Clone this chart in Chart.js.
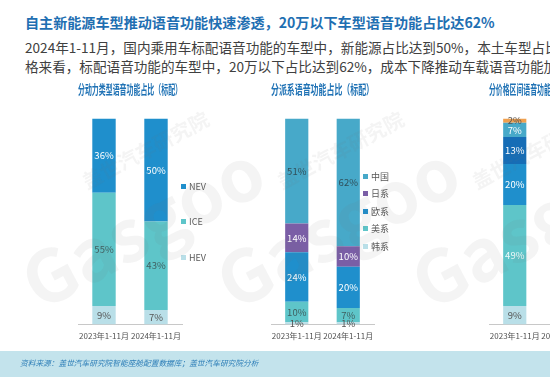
<!DOCTYPE html>
<html lang="zh">
<head>
<meta charset="UTF-8">
<title>语音功能占比</title>
<script src="https://cdn.jsdelivr.net/npm/chart.js"></script>
<style>
  html, body { margin: 0; padding: 0; }
  body { width: 550px; height: 378px; overflow: hidden; position: relative; background: #fff;
         font-family: "Noto Sans CJK SC", "Noto Sans", sans-serif; }
  .head { position: absolute; left: 25px; white-space: nowrap; }
  #title { top: 12px; font-size: 14.1px; font-weight: bold; color: #1f6fb2; }
  .sub { font-size: 13.6px; color: #404040; }
  #sub1 { top: 37px; }
  #sub2 { top: 56px; }
  .box { position: absolute; top: 78px; }
  .legend { position: absolute; font-size: 9px; color: #595959; }
  .legend div { display: flex; align-items: center; height: 12px; }
  .legend span.sw { width: 5px; height: 5px; margin-right: 3px; display: inline-block; }
  #footer { position: absolute; left: 0; top: 351px; width: 550px; height: 26px; background: #c3e3ec; }
  #footer span { position: absolute; left: 20px; top: 6px; font-size: 7.7px; font-style: italic; color: #2f7fb8; }
  .wm { position: absolute; color: rgba(120,120,120,0.08); transform: rotate(-28deg); white-space: nowrap;
        pointer-events: none; font-weight: bold; }
</style>
</head>
<body>

<div id="title" class="head">自主新能源车型推动语音功能快速渗透，20万以下车型语音功能占比达62%</div>
<div id="sub1" class="head sub">2024年1-11月，国内乘用车标配语音功能的车型中，新能源占比达到50%，本土车型占比达到62%；从价</div>
<div id="sub2" class="head sub">格来看，标配语音功能的车型中，20万以下占比达到62%，成本下降推动车载语音功能加速普及。</div>

<div class="box" style="left:50px"><canvas id="c1" width="200" height="270"></canvas></div>
<div class="box" style="left:235px"><canvas id="c2" width="200" height="270"></canvas></div>
<div class="box" style="left:458px"><canvas id="c3" width="200" height="270"></canvas></div>

<div id="lg1" class="legend" style="left:181px; top:180px"></div>
<div id="lg2" class="legend" style="left:363px; top:170px"></div>

<div class="wm" style="left:10px; top:170px; font-size:72px;">Gasgoo</div>
<div class="wm" style="left:75px; top:135px; font-size:20px;">盖世汽车研究院</div>
<div class="wm" style="left:205px; top:170px; font-size:72px;">Gasgoo</div>
<div class="wm" style="left:270px; top:135px; font-size:20px;">盖世汽车研究院</div>
<div class="wm" style="left:400px; top:170px; font-size:72px;">Gasgoo</div>
<div class="wm" style="left:465px; top:135px; font-size:20px;">盖世汽车研究院</div>

<div id="footer"><span>资料来源：盖世汽车研究院智能座舱配置数据库；盖世汽车研究院分析</span></div>

<script>
// 时间段
const periods = ['2023年1-11月', '2024年1-11月'];

// 分动力类型（%）
const hevShare = [9, 7];
const iceShare = [55, 43];
const nevShare = [36, 50];

// 分派系（%）
const koreanShare = [1, 1];
const americanShare = [10, 7];
const europeanShare = [24, 20];
const japaneseShare = [14, 10];
const chineseShare = [51, 62];

// 分价格区间（%），2024年部分在画面外
const priceBandA = [9, null];
const priceBandB = [49, null];
const priceBandC = [20, null];
const priceBandD = [13, null];
const priceBandE = [7, null];
const priceBandF = [2, null];

const FONT = '"Noto Sans CJK SC", "Noto Sans", sans-serif';
const C_LIGHT = '#b9dfe8', C_TEAL = '#5ec5c9', C_BLUE = '#1f8fcc', C_MID = '#47a9c9',
      C_PURPLE = '#7a5ea6', C_DARK = '#166db6', C_ORANGE = '#f0a04e';

// 段内数值标签
const segLabels = {
  id: 'segLabels',
  afterDatasetsDraw(chart) {
    const ctx = chart.ctx;
    ctx.save();
    ctx.font = '9.5px ' + FONT;
    ctx.textAlign = 'center';
    ctx.textBaseline = 'middle';
    chart.data.datasets.forEach((ds, i) => {
      const meta = chart.getDatasetMeta(i);
      meta.data.forEach((bar, j) => {
        const v = ds.data[j];
        if (v == null) return;
        ctx.fillStyle = ds.labelColor || '#555';
        ctx.fillText(v + '%', bar.x, (bar.y + bar.base) / 2);
      });
    });
    ctx.restore();
  }
};

function makeChart(id, titleText, datasets, padL, padR) {
  return new Chart(document.getElementById(id), {
    type: 'bar',
    data: { labels: periods, datasets: datasets },
    options: {
      responsive: false,
      animation: false,
      layout: { padding: { left: padL, right: padR, bottom: 0 } },
      datasets: { bar: { categoryPercentage: 1, barPercentage: 0.45, borderWidth: 0 } },
      plugins: {
        legend: { display: false },
        tooltip: { enabled: false },
        title: {
          display: true, text: titleText, color: '#1f72b5',
          font: { family: FONT, size: 13, weight: 'bold' },
          padding: { top: 3, bottom: 22 }
        }
      },
      scales: {
        x: {
          stacked: true,
          grid: { display: false, drawTicks: false },
          border: { display: true, color: '#c8c8c8' },
          ticks: { color: '#505050', font: { family: FONT, size: 8 }, padding: 7, maxRotation: 0, autoSkip: false }
        },
        y: { stacked: true, display: false, min: 0, max: 100 }
      }
    },
    plugins: [segLabels]
  });
}

function htmlLegend(chart, elId, gap) {
  const el = document.getElementById(elId);
  chart.data.datasets.slice().reverse().forEach((ds, k) => {
    const row = document.createElement('div');
    if (k > 0) row.style.marginTop = gap + 'px';
    const sw = document.createElement('span');
    sw.className = 'sw';
    sw.style.background = ds.backgroundColor;
    row.appendChild(sw);
    row.appendChild(document.createTextNode(ds.label));
    el.appendChild(row);
  });
}

const ch1 = makeChart('c1', '分动力类型语音功能占比（标配）', [
  { label: 'HEV', data: hevShare, backgroundColor: C_LIGHT, labelColor: '#555' },
  { label: 'ICE', data: iceShare, backgroundColor: C_TEAL, labelColor: '#3f5f60' },
  { label: 'NEV', data: nevShare, backgroundColor: C_BLUE, labelColor: '#fff' }
], 28, 68);
htmlLegend(ch1, 'lg1', 23.5);

const ch2 = makeChart('c2', '分派系语音功能占比（标配）', [
  { label: '韩系', data: koreanShare, backgroundColor: C_LIGHT, labelColor: '#555' },
  { label: '美系', data: americanShare, backgroundColor: C_TEAL, labelColor: '#3f5f60' },
  { label: '欧系', data: europeanShare, backgroundColor: C_BLUE, labelColor: '#fff' },
  { label: '日系', data: japaneseShare, backgroundColor: C_PURPLE, labelColor: '#fff' },
  { label: '中国', data: chineseShare, backgroundColor: C_MID, labelColor: '#2f4f5a' }
], 36, 61);
htmlLegend(ch2, 'lg2', 5.5);

makeChart('c3', '分价格区间语音功能占比（标配）', [
  { label: '10万以下', data: priceBandA, backgroundColor: C_LIGHT, labelColor: '#555' },
  { label: '10-20万', data: priceBandB, backgroundColor: C_TEAL, labelColor: '#eefafa' },
  { label: '20-30万', data: priceBandC, backgroundColor: C_BLUE, labelColor: '#fff' },
  { label: '30-40万', data: priceBandD, backgroundColor: C_DARK, labelColor: '#fff' },
  { label: '40-50万', data: priceBandE, backgroundColor: C_MID, labelColor: '#fff' },
  { label: '50万以上', data: priceBandF, backgroundColor: C_ORANGE, labelColor: '#555' }
], 31, 66);
</script>
</body>
</html>
